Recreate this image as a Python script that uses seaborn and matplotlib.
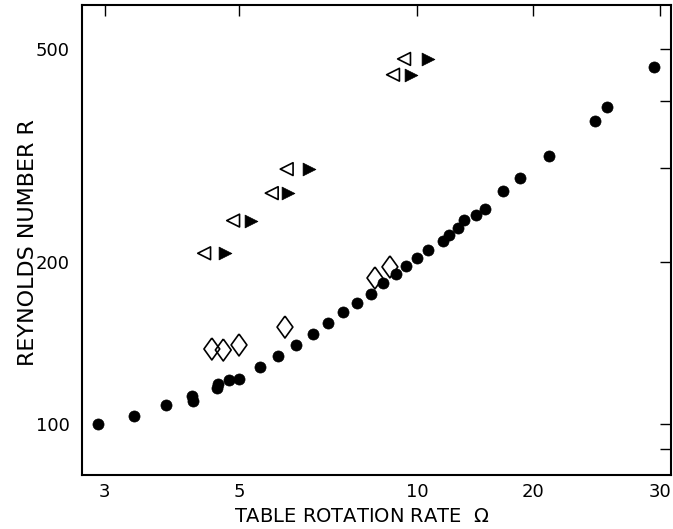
import numpy as np
import pandas as pd
import matplotlib
matplotlib.use("Agg")
import matplotlib.pyplot as plt
import seaborn as sns

# ---------------- data ----------------
circle_omega = [2.93, 3.36, 3.79, 4.18, 4.20, 4.60, 4.62, 4.81, 5.00, 5.43,
                5.82, 6.24, 6.66, 7.07, 7.50, 7.91, 8.36, 8.76, 9.22, 9.60,
                10.0, 10.68, 11.65, 12.09, 12.78, 13.24, 14.19, 15.02, 16.72,
                18.56, 21.05, 24.38, 25.37, 29.43]
circle_R = [100.0, 103.5, 108.5, 112.8, 110.4, 116.7, 118.7, 120.8, 121.3, 128.0,
            133.9, 140.4, 147.2, 154.3, 162.0, 168.2, 174.7, 183.1, 190.4, 196.6,
            203.9, 210.6, 219.3, 225.0, 231.9, 240.0, 245.2, 251.6, 271.9,
            287.4, 315.9, 367.1, 389.8, 462.9]

diamond_omega = [4.51, 4.71, 5.00, 5.98, 8.49, 9.00]
diamond_R = [138.0, 137.4, 140.4, 151.6, 187.1, 196.2]

open_tri_omega = [4.38, 4.89, 5.68, 6.02, 9.11, 9.51]
open_tri_R = [208.0, 239.3, 269.2, 298.4, 447.2, 478.5]

filled_tri_omega = [4.74, 5.23, 6.05, 6.57, 9.76, 10.66]
filled_tri_R = [208.0, 239.3, 269.2, 298.4, 447.2, 478.5]

x_ticks = [3, 5, 10, 20, 30]
x_tick_labels = ["3", "5", "10", "20", "30"]
y_ticks = [90, 100, 200, 300, 400, 500]
y_tick_labels = ["", "100", "200", "", "", "500"]

# ---------------- non-uniform x axis of the original drawing ----------------
# The reference's x axis is not a pure log axis; calibrate a function scale
# from where its tick marks sit (relative units).
calib_log = np.log10(np.array(x_ticks, dtype=float))
calib_pos = np.array([104.5, 239.0, 417.0, 533.0, 660.0])
s_lo = (calib_pos[1] - calib_pos[0]) / (calib_log[1] - calib_log[0])
s_hi = (calib_pos[-1] - calib_pos[-2]) / (calib_log[-1] - calib_log[-2])
knot_log = np.concatenate([[calib_log[0] - 2], calib_log, [calib_log[-1] + 2]])
knot_pos = np.concatenate([[calib_pos[0] - 2 * s_lo], calib_pos, [calib_pos[-1] + 2 * s_hi]])


def fwd(x):
    x = np.asarray(x, dtype=float)
    lx = np.log10(np.clip(x, 1e-6, None))
    return np.interp(lx, knot_log, knot_pos)


def inv(p):
    p = np.asarray(p, dtype=float)
    return 10 ** np.interp(p, knot_pos, knot_log)


# ---------------- figure ----------------
sns.set_theme(style="white")
plt.rcParams["font.family"] = ["DejaVu Sans"]
plt.rcParams["mathtext.fontset"] = "dejavusans"

fig = plt.figure(figsize=(6.73, 5.29), dpi=100)
ax = fig.add_axes([82 / 673, 1 - 475 / 529, (671 - 82) / 673, (475 - 5) / 529])
ax.set_xscale("function", functions=(fwd, inv))
ax.set_yscale("log")

df_c = pd.DataFrame({"omega": circle_omega, "R": circle_R})
df_d = pd.DataFrame({"omega": diamond_omega, "R": diamond_R})
df_o = pd.DataFrame({"omega": open_tri_omega, "R": open_tri_R})
df_f = pd.DataFrame({"omega": filled_tri_omega, "R": filled_tri_R})

diamond_marker = [(0, 1), (0.72, 0), (0, -1), (-0.72, 0), (0, 1)]

sns.scatterplot(data=df_c, x="omega", y="R", ax=ax, marker="o", s=64,
                color="black", edgecolor="black", linewidth=0.5, zorder=3)
sns.scatterplot(data=df_d, x="omega", y="R", ax=ax, marker=diamond_marker, s=250,
                facecolor="none", edgecolor="black", linewidth=1.2, zorder=3)
sns.scatterplot(data=df_o, x="omega", y="R", ax=ax, marker="<", s=85,
                facecolor="none", edgecolor="black", linewidth=1.2, zorder=3)
sns.scatterplot(data=df_f, x="omega", y="R", ax=ax, marker=">", s=85,
                color="black", edgecolor="black", linewidth=0.5, zorder=3)

ax.set_xlim(2.754, 31.08)
ax.set_ylim(80.4, 603)

ax.set_xticks(x_ticks)
ax.set_xticklabels(x_tick_labels)
ax.xaxis.set_minor_locator(matplotlib.ticker.NullLocator())
ax.set_yticks(y_ticks)
ax.set_yticklabels(y_tick_labels)
ax.yaxis.set_minor_locator(matplotlib.ticker.NullLocator())

ax.tick_params(axis="both", which="major", direction="in", length=8, width=1.0,
               top=True, right=True, labelsize=13, colors="black")
ax.tick_params(axis="x", pad=6)
ax.tick_params(axis="y", pad=9)

for sp in ax.spines.values():
    sp.set_color("black")
    sp.set_linewidth(1.5)

ax.set_xlabel("TABLE ROTATION RATE  $\\Omega$", fontsize=14, color="black")
ax.set_ylabel("REYNOLDS NUMBER R", fontsize=16, color="black")
ax.xaxis.set_label_coords(0.475, -0.068)
ax.yaxis.set_label_coords(-0.075, 0.495)

fig.savefig("out.png", dpi=100, facecolor="white")
